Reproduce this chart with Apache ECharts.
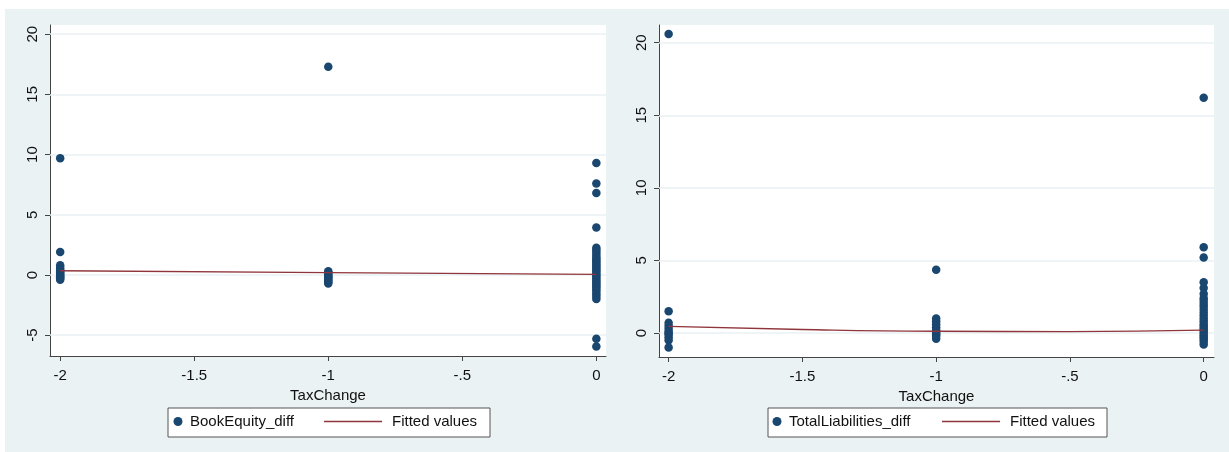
<!DOCTYPE html>
<html>
<head>
<meta charset="utf-8">
<script src="https://cdn.jsdelivr.net/npm/echarts@6/dist/echarts.min.js"></script>
<style>
  html, body { margin: 0; padding: 0; background: #ffffff; }
  #bg { position: absolute; left: 5px; top: 9px; width: 1224px; height: 443px; background: #eaf2f3; }
  #chart { position: absolute; left: 0; top: 0; width: 1229px; height: 452px; }
</style>
</head>
<body>
<div id="bg"></div>
<div id="chart"></div>
<script>
// TaxChange groups
const taxGroups = [-2, -1, 0];

// BookEquity_diff observations, one list per TaxChange group
const bookEquityAtM2 = [9.7, 1.9, 0.8, 0.6, 0.45, 0.3, 0.2, 0.1, 0, -0.1, -0.2, -0.3, -0.4];
const bookEquityAtM1 = [17.3, 0.3, 0.2, 0.1, 0, -0.1, -0.2, -0.3, -0.4, -0.5, -0.6, -0.7];
const bookEquityAt0 = [9.3, 7.6, 6.8, 3.95, 2.25, 2.1, 1.9, 1.7, 1.5, 1.35, 1.2, 1.05, 0.9, 0.75, 0.6,
  0.45, 0.3, 0.15, 0, -0.15, -0.3, -0.45, -0.6, -0.75, -0.9, -1.05, -1.2, -1.4, -1.6, -1.8, -2.0, -5.3, -5.95];

// TotalLiabilities_diff observations, one list per TaxChange group
const liabilitiesAtM2 = [20.6, 1.5, 0.7, 0.5, 0.3, 0.1, 0, -0.1, -0.3, -0.5, -1.0];
const liabilitiesAtM1 = [4.35, 1.0, 0.8, 0.6, 0.4, 0.2, 0.1, 0, -0.1, -0.2, -0.4];
const liabilitiesAt0 = [16.2, 5.9, 5.2, 3.5, 3.1, 2.7, 2.4, 2.2, 2.0, 1.8, 1.6, 1.4, 1.2, 1.0, 0.8,
  0.6, 0.45, 0.3, 0.15, 0, -0.15, -0.3, -0.45, -0.6, -0.8];

// Fitted values
const fitBookX = [-2, -1, 0];
const fitBookY = [0.35, 0.2, 0.05];
const fitLiabX = [-2, -1.5, -1, -0.5, 0];
const fitLiabY = [0.46, 0.24, 0.12, 0.10, 0.19];

// Axis ticks
const xTickValues = [-2, -1.5, -1, -0.5, 0];
const xTickLabels = ['-2', '-1.5', '-1', '-.5', '0'];
const yTickValues = [-5, 0, 5, 10, 15, 20];
const yTickValuesRight = [0, 5, 10, 15, 20];

function pairs(groups) {
  const out = [];
  groups.forEach(function (vals, i) {
    vals.forEach(function (v) { out.push([taxGroups[i], v]); });
  });
  return out;
}
function zip(xs, ys) { return xs.map(function (x, i) { return [x, ys[i]]; }); }

const FONT = '"Liberation Sans", Arial, sans-serif';
const FS = 15;
const TXT = '#111111';
const AXIS = '#444444';
const GRIDLINE = '#eaf2f3';
const DOT = '#1a476f';
const FIT = '#90353b';

function xAxisFor(gridIndex, min, max) {
  return {
    type: 'value', gridIndex: gridIndex, min: min, max: max,
    name: 'TaxChange', nameLocation: 'middle', nameGap: 26,
    nameTextStyle: { fontFamily: FONT, fontSize: FS, color: TXT },
    axisLine: { show: true, onZero: false, lineStyle: { color: AXIS, width: 1 } },
    axisTick: { show: true, length: 5, lineStyle: { color: AXIS }, customValues: xTickValues },
    axisLabel: {
      fontFamily: FONT, fontSize: FS, color: TXT, margin: 12, customValues: xTickValues,
      formatter: function (v) {
        const i = xTickValues.indexOf(v);
        return i >= 0 ? xTickLabels[i] : '';
      }
    },
    splitLine: { show: false }
  };
}
function yAxisFor(gridIndex, min, max, ticks) {
  return {
    type: 'value', gridIndex: gridIndex, min: min, max: max,
    axisLine: { show: true, onZero: false, lineStyle: { color: AXIS, width: 1 } },
    axisTick: { show: true, length: 5, lineStyle: { color: AXIS }, customValues: ticks },
    axisLabel: { fontFamily: FONT, fontSize: FS, color: TXT, rotate: 90, margin: 10, customValues: ticks },
    splitLine: { show: false }
  };
}
// horizontal reference lines at the y ticks, kept beneath the markers
function gridLines(ticks) {
  return {
    silent: true, symbol: 'none', label: { show: false }, z: 1,
    lineStyle: { color: GRIDLINE, width: 1.5, type: 'solid', opacity: 1 },
    emphasis: { disabled: true },
    data: ticks.map(function (t) { return { yAxis: t }; })
  };
}
function dotLegend(name, left) {
  return { data: [name], left: left, top: 414, padding: 0, itemWidth: 14, itemHeight: 9, icon: 'circle',
    textStyle: { fontFamily: FONT, fontSize: FS, color: TXT }, selectedMode: false, z: 5 };
}
function lineLegend(left) {
  return { data: [{ name: 'Fitted values', icon: 'rect', itemStyle: { color: FIT } }],
    left: left, top: 414, padding: 0, itemWidth: 58, itemHeight: 1.6,
    textStyle: { fontFamily: FONT, fontSize: FS, color: TXT, padding: [0, 0, 0, 5] }, selectedMode: false, z: 5 };
}

const chart = echarts.init(document.getElementById('chart'), null, { renderer: 'canvas' });
chart.setOption({
  animation: false,
  grid: [
    { left: 50, top: 25, width: 556, height: 331, show: true, backgroundColor: '#ffffff', borderWidth: 0 },
    { left: 659, top: 25, width: 555, height: 332, show: true, backgroundColor: '#ffffff', borderWidth: 0 }
  ],
  xAxis: [xAxisFor(0, -2.038, 0.036), xAxisFor(1, -2.036, 0.0385)],
  yAxis: [yAxisFor(0, -6.73, 20.76, yTickValues), yAxisFor(1, -1.655, 21.22, yTickValuesRight)],
  graphic: [
    { type: 'rect', left: 167.5, top: 407.5, shape: { width: 322, height: 29 }, style: { fill: '#ffffff', stroke: '#555555', lineWidth: 1 }, z: 0 },
    { type: 'rect', left: 767.5, top: 407.5, shape: { width: 339, height: 29 }, style: { fill: '#ffffff', stroke: '#555555', lineWidth: 1 }, z: 0 }
  ],
  legend: [
    dotLegend('BookEquity_diff', 173.5),
    lineLegend(324),
    dotLegend('TotalLiabilities_diff', 772.5),
    lineLegend(942)
  ],
  series: [
    {
      name: 'BookEquity_diff', type: 'scatter', xAxisIndex: 0, yAxisIndex: 0,
      symbol: 'circle', symbolSize: 8.5, itemStyle: { color: DOT, opacity: 1 },
      data: pairs([bookEquityAtM2, bookEquityAtM1, bookEquityAt0]),
      markLine: gridLines(yTickValues), z: 2
    },
    {
      name: 'Fitted values', type: 'line', xAxisIndex: 0, yAxisIndex: 0,
      symbol: 'none', lineStyle: { color: FIT, width: 1.3 }, itemStyle: { color: FIT },
      data: zip(fitBookX, fitBookY), z: 3
    },
    {
      name: 'TotalLiabilities_diff', type: 'scatter', xAxisIndex: 1, yAxisIndex: 1,
      symbol: 'circle', symbolSize: 8.5, itemStyle: { color: DOT, opacity: 1 },
      data: pairs([liabilitiesAtM2, liabilitiesAtM1, liabilitiesAt0]),
      markLine: gridLines(yTickValuesRight), z: 2
    },
    {
      name: 'Fitted values', type: 'line', xAxisIndex: 1, yAxisIndex: 1,
      symbol: 'none', smooth: true, lineStyle: { color: FIT, width: 1.3 }, itemStyle: { color: FIT },
      data: zip(fitLiabX, fitLiabY), z: 3
    }
  ]
});
</script>
</body>
</html>
